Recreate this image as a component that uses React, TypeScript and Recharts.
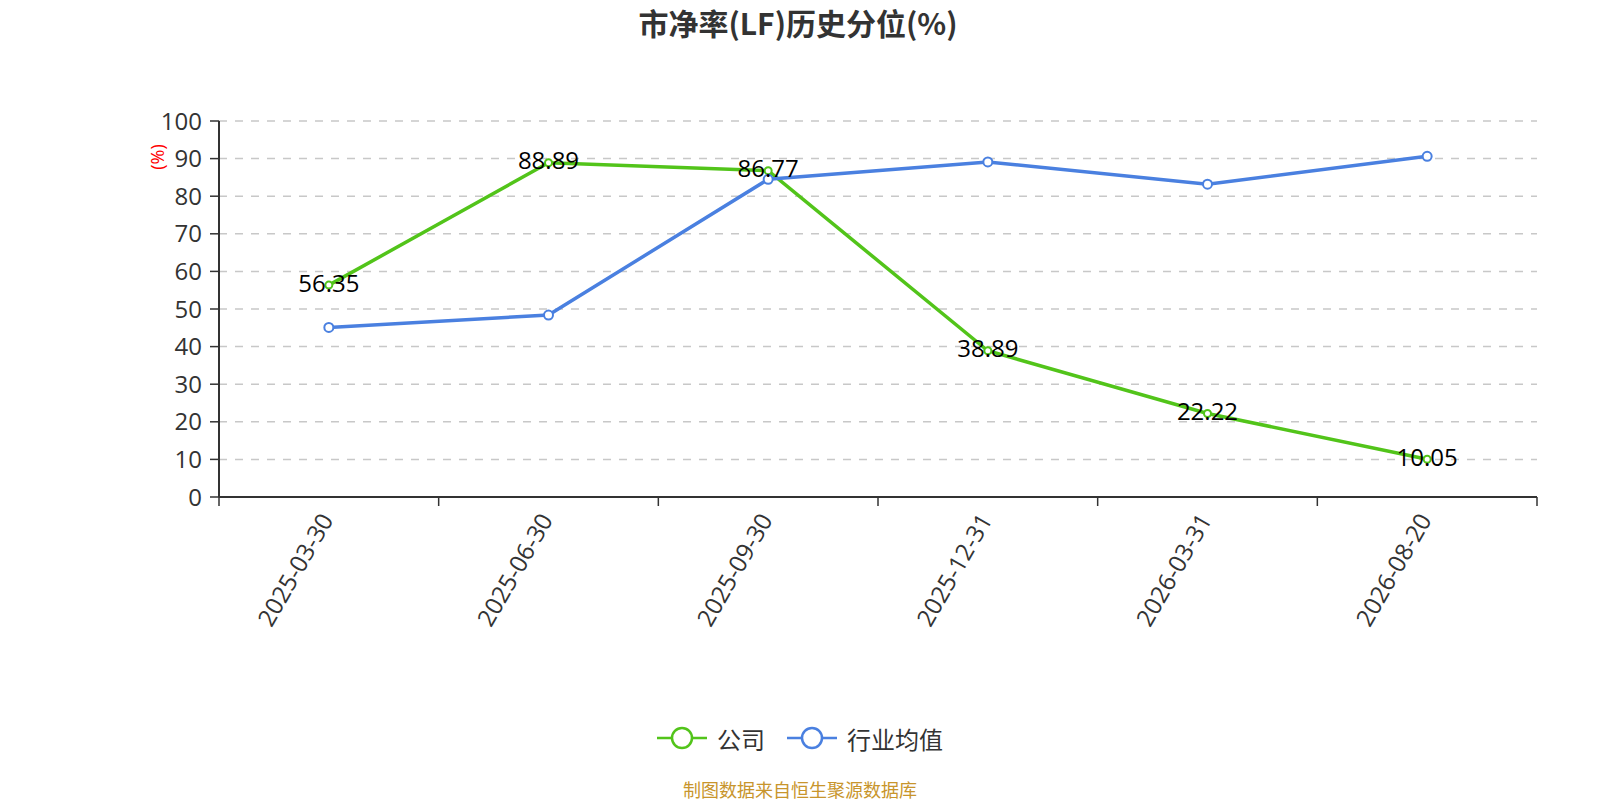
import { CartesianGrid, Line, LineChart, XAxis, YAxis } from "recharts";

const categories = ["2025-03-30", "2025-06-30", "2025-09-30", "2025-12-31", "2026-03-31", "2026-08-20"];
const companyValues = [56.35, 88.89, 86.77, 38.89, 22.22, 10.05];
const industryValues = [45.1, 48.4, 84.5, 89.1, 83.2, 90.6];
const yTicks = [0, 10, 20, 30, 40, 50, 60, 70, 80, 90, 100];

const series = [
  { key: "company", name: "公司", color: "#52c41a", values: companyValues, dotR: 3.5 },
  { key: "industry", name: "行业均值", color: "#4a80e0", values: industryValues, dotR: 4.5 },
];

// numeric x so tick marks can sit on the category boundaries
const data = categories.map((date, i) => ({
  x: i + 0.5,
  date,
  company: companyValues[i],
  industry: industryValues[i],
}));
const xTicks = [...categories.flatMap((_, i) => [i, i + 0.5]), categories.length];

const FONT = "'Open Sans', 'Noto Sans CJK SC', sans-serif";
const CJK = "'Noto Sans CJK SC', 'Open Sans', sans-serif";

function XTick(props: any) {
  const { x, y, payload } = props;
  const v = payload.value;
  if (Number.isInteger(v)) {
    return <line x1={x} x2={x} y1={y} y2={y + 9} stroke="#333" strokeWidth={1.5} />;
  }
  const ax = x - 3;
  const ay = y + 18;
  return (
    <text
      x={ax}
      y={ay}
      transform={`rotate(-60 ${ax} ${ay})`}
      textAnchor="end"
      dominantBaseline="central"
      fontSize={24}
      fontFamily={FONT}
      fill="#333"
    >
      {categories[Math.floor(v)]}
    </text>
  );
}

function ValueLabel(props: any) {
  const { x, y, value } = props;
  return (
    <text x={x} y={y - 3} textAnchor="middle" dominantBaseline="central" fontSize={24} fontFamily={FONT} fill="#000">
      {value}
    </text>
  );
}

export default function App() {
  return (
    <div style={{ position: "absolute", left: 0, top: 0, width: 1600, height: 800, background: "#fff", fontFamily: FONT }}>
      <div
        style={{
          position: "absolute",
          top: 3,
          left: 0,
          width: 1596,
          textAlign: "center",
          fontSize: 30,
          fontWeight: 700,
          color: "#333",
          fontFamily: CJK,
          lineHeight: "38px",
        }}
      >
        市净率(LF)历史分位(%)
      </div>
      <div
        style={{
          position: "absolute",
          left: 157,
          top: 157,
          transform: "translate(-50%, -50%) rotate(-90deg)",
          color: "red",
          fontSize: 18,
          whiteSpace: "nowrap",
        }}
      >
        (%)
      </div>
      <LineChart width={1600} height={800} data={data} margin={{ top: 121, right: 63, left: 0, bottom: 0 }}>
        <CartesianGrid vertical={false} stroke="#c8c8c8" strokeWidth={1.5} strokeDasharray="8 8" />
        <XAxis
          dataKey="x"
          type="number"
          domain={[0, categories.length]}
          ticks={xTicks}
          interval={0}
          height={303}
          tickLine={false}
          tickSize={0}
          tickMargin={0}
          axisLine={{ stroke: "#333", strokeWidth: 2 }}
          tick={(p: any) => <XTick {...p} />}
        />
        <YAxis
          type="number"
          domain={[0, 100]}
          ticks={yTicks}
          interval={0}
          width={219}
          tickSize={9}
          tickMargin={8}
          axisLine={{ stroke: "#333", strokeWidth: 2 }}
          tickLine={{ stroke: "#333", strokeWidth: 1.5 }}
          tick={{ fontSize: 24, fill: "#333", fontFamily: FONT }}
        />
        {series.map((s) => (
          <Line
            key={s.key}
            type="linear"
            dataKey={s.key}
            name={s.name}
            stroke={s.color}
            strokeWidth={3.5}
            dot={{ r: s.dotR, fill: "#fff", stroke: s.color, strokeWidth: 2 }}
            activeDot={false}
            isAnimationActive={false}
            label={s.key === "company" ? (p: any) => <ValueLabel {...p} /> : false}
          />
        ))}
      </LineChart>
      <div
        style={{
          position: "absolute",
          top: 721,
          left: 0,
          width: 1600,
          display: "flex",
          justifyContent: "center",
          gap: 22,
          fontFamily: CJK,
          fontSize: 24,
          color: "#333",
        }}
      >
        {series.map((s) => (
          <div key={s.key} style={{ display: "flex", alignItems: "center", gap: 10, height: 34 }}>
            <svg width={50} height={24}>
              <line x1={0} x2={50} y1={12} y2={12} stroke={s.color} strokeWidth={2.5} />
              <circle cx={25} cy={12} r={10} fill="#fff" stroke={s.color} strokeWidth={2.5} />
            </svg>
            <span>{s.name}</span>
          </div>
        ))}
      </div>
      <div
        style={{
          position: "absolute",
          top: 777,
          left: 0,
          width: 1600,
          textAlign: "center",
          fontSize: 18,
          color: "#c8952c",
          fontFamily: CJK,
          lineHeight: "24px",
        }}
      >
        制图数据来自恒生聚源数据库
      </div>
    </div>
  );
}
